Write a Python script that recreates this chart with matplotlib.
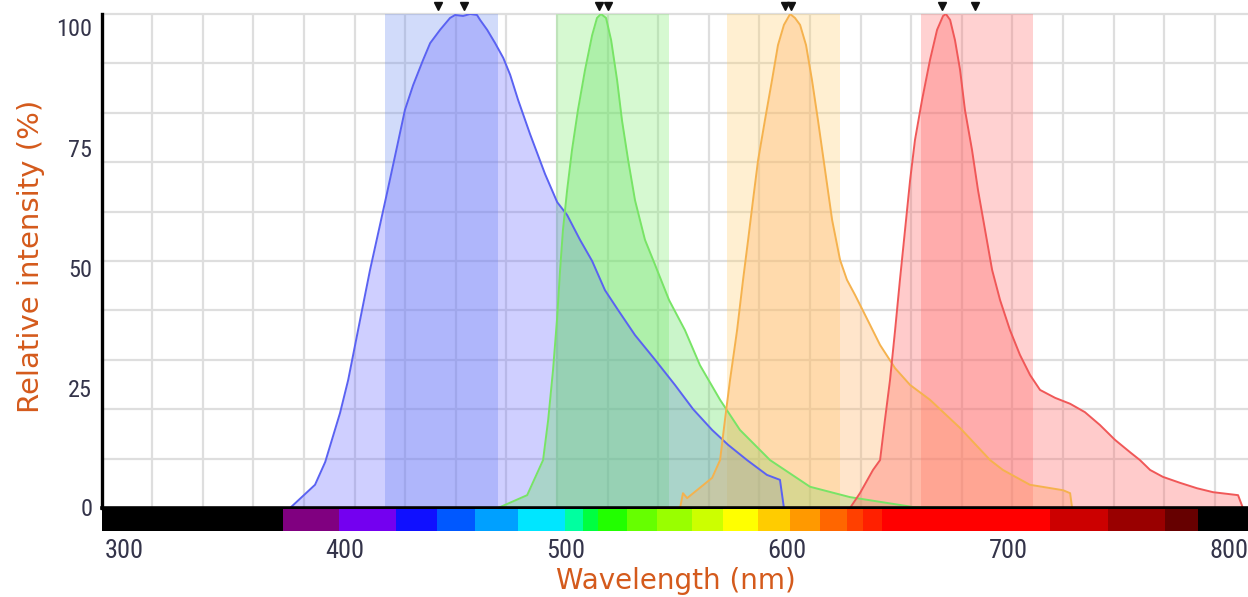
import numpy as np
import matplotlib
matplotlib.use("Agg")
import matplotlib.pyplot as plt
from matplotlib.transforms import blended_transform_factory
from matplotlib import font_manager

# ---- emission spectra (wavelength nm, relative intensity %) ----
blue_nm = [375.1, 386.4, 391.0, 397.7, 401.4, 406.8, 411.3, 415.8, 419.0, 423.5, 427.1,
           430.8, 435.3, 438.5, 443.0, 447.5, 449.8, 453.4, 456.6, 459.7, 461.1, 464.3,
           467.9, 471.6, 474.7, 478.3, 483.7, 490.5, 496.0, 500.5, 506.3, 511.8, 517.6,
           523.5, 531.2, 540.3, 549.3, 557.5, 566.1, 573.3, 581.9, 590.9, 596.8, 598.6]
blue_val = [0, 4.7, 9.3, 19.2, 25.9, 38.1, 48.2, 57.3, 63.8, 73.1, 80.6,
            85.6, 90.7, 94.1, 96.8, 99.2, 99.8, 99.6, 100, 99.8, 98.8, 96.8,
            94.1, 91.1, 87.7, 82.6, 75.7, 67.6, 61.9, 59.3, 54.3, 50.0, 44.1,
            40.1, 35.0, 30.0, 24.9, 20.0, 15.8, 12.8, 9.7, 6.7, 5.7, 0]

green_nm = [469.2, 482.4, 489.6, 491.9, 494.1, 495.9, 497.3, 498.6, 500.5, 502.7, 505.4,
            508.6, 511.8, 514.0, 515.8, 518.1, 520.4, 523.1, 525.3, 528.1, 531.2, 535.7,
            540.3, 546.6, 553.8, 560.6, 569.7, 578.7, 592.3, 610.4, 628.5, 657.0, 676.9]
green_val = [0, 2.6, 9.7, 17.8, 27.9, 38.1, 48.2, 56.3, 64.4, 72.5, 80.6,
             88.7, 95.7, 99.2, 100, 99.2, 94.7, 86.6, 78.5, 70.4, 62.3, 54.3,
             49.2, 42.1, 36.0, 28.9, 21.9, 15.8, 9.7, 4.3, 2.2, 0.2, 0]

orange_nm = [551.6, 552.9, 554.8, 566.1, 569.7, 571.9, 574.2, 577.4, 580.1, 582.4, 584.6,
             586.9, 590.0, 593.2, 595.9, 598.6, 601.4, 603.6, 605.9, 608.6, 611.3, 614.0,
             617.2, 620.4, 624.0, 627.1, 630.8, 635.3, 642.1, 648.9, 655.7, 664.7, 678.3,
             691.9, 697.7, 709.9, 724.9, 728.1, 729.0]
orange_val = [0, 3.0, 2.0, 6.1, 9.7, 17.8, 25.9, 36.0, 46.2, 54.3, 62.3,
              70.4, 78.5, 86.6, 93.7, 97.8, 100, 99.2, 97.8, 93.7, 86.6, 78.5,
              68.4, 58.3, 50.2, 46.2, 43.1, 39.1, 33.0, 28.3, 24.9, 21.9, 16.2,
              9.7, 7.7, 4.7, 3.6, 3.0, 0]

red_nm = [628.5, 633.0, 638.9, 642.1, 644.3, 646.6, 648.9, 651.1, 653.4, 655.7, 657.9,
          661.1, 664.7, 667.9, 670.6, 671.9, 673.8, 676.0, 678.3, 680.5, 683.7, 686.4,
          689.6, 692.8, 696.4, 700.9, 705.4, 710.0, 714.5, 721.3, 728.1, 734.8, 741.6,
          748.4, 755.2, 759.7, 764.3, 770.1, 777.8, 785.5, 792.8, 804.1, 806.3]
red_val = [0, 3.0, 7.7, 9.7, 17.8, 25.9, 36.0, 46.2, 56.3, 66.4, 74.5,
           82.6, 90.7, 96.8, 99.6, 100, 98.8, 94.7, 88.7, 80.6, 72.5, 64.4,
           56.3, 48.2, 42.1, 36.0, 31.0, 26.9, 23.9, 22.3, 21.1, 19.4, 16.8,
           13.8, 11.3, 9.7, 7.7, 6.3, 5.1, 4.0, 3.2, 2.6, 0]

# ---- detection filters (lower, upper nm) and top markers (nm) ----
filter_bands = [(418, 469), (495.5, 546.5), (573, 624), (660.5, 711.5)]
marker_nm = [[442, 454], [515, 519], [599, 602], [670, 685]]

# ---- visible spectrum strip ----
strip_edges = [290, 371.9, 397.3, 423.1, 441.6, 458.8, 478.3, 499.5, 507.7, 514.5, 527.6,
               541.2, 557.0, 571.0, 586.9, 601.4, 614.9, 627.1, 634.4, 643.0, 719.0,
               745.2, 771.0, 786.0, 808.6]
strip_colors = ["#000000", "#800080", "#7400f0", "#1010ff", "#0058ff", "#00a0ff",
                "#00e6ff", "#00ffa0", "#00ff40", "#22ff00", "#66ff00", "#99ff00",
                "#ccff00", "#ffff00", "#ffcc00", "#ff9900", "#ff6600", "#ff4000",
                "#ff2000", "#ff0000", "#cc0000", "#990000", "#660000", "#000000"]

x_ticks = [300, 400, 500, 600, 700, 800]
y_tick_labels = ["0", "25", "50", "75", "100"]

series = [
    (blue_nm, blue_val, "#5a62f2", "#6a6aff", "#7090f0"),
    (green_nm, green_val, "#78e466", "#5ce05a", "#80ee70"),
    (orange_nm, orange_val, "#f5b24e", "#ffb060", "#ffd070"),
    (red_nm, red_val, "#f05858", "#ff6060", "#ff7070"),
]

# narrow face for the tick numbers when one is available
installed = {f.name for f in font_manager.fontManager.ttflist}
narrow = [n for n in ("Roboto Condensed", "Liberation Sans Narrow", "DejaVu Sans Condensed")
          if n in installed]
if narrow:
    tick_font, y_size, x_size = narrow[0], 17.5, 19
else:
    tick_font, y_size, x_size = "Liberation Sans", 15, 16.5

W, H = 1248, 597
fig = plt.figure(figsize=(W / 100, H / 100), dpi=100)
ax = fig.add_axes([102 / W, (H - 508) / H, (W - 102) / W, 494 / H])
cax = fig.add_axes([102 / W, (H - 531) / H, (W - 102) / W, 22 / H])

xmin, xmax = 290.0, 808.6
ax.set_xlim(xmin, xmax)
ax.set_ylim(0, 100)

grid_c = "#dedede"
for gx in np.arange(312.7, xmax, 22.9):
    ax.axvline(gx, color=grid_c, lw=1.6, zorder=0)
for gy in range(10, 101, 10):
    ax.axhline(gy, color=grid_c, lw=1.6, zorder=0, clip_on=False)

for (lo, hi), (_, _, _, _, bc) in zip(filter_bands, series):
    ax.axvspan(lo, hi, color=bc, alpha=0.32, lw=0, zorder=1)

for xs, ys, lc, fc, _ in series:
    ax.fill_between(xs, ys, 0, color=fc, alpha=0.32, lw=0, zorder=2)
    ax.plot(xs, ys, color=lc, lw=1.4, zorder=3)

trans = blended_transform_factory(ax.transData, ax.transAxes)
for pair in marker_nm:
    for m in pair:
        ax.plot([m], [1.016], marker="v", color="#111111", markersize=6,
                transform=trans, clip_on=False, zorder=5)

tick_color = "#34344a"

ax.set_xticks([])
ax.set_yticks([0.2, 24.3, 48.6, 72.9, 97.4])
ax.set_yticklabels(y_tick_labels, family=tick_font, fontsize=y_size, color=tick_color)
ax.tick_params(axis="y", length=0, pad=7)

for s in ("top", "right"):
    ax.spines[s].set_visible(False)
ax.spines["left"].set_color("black")
ax.spines["left"].set_linewidth(2.4)
ax.spines["bottom"].set_color("black")
ax.spines["bottom"].set_linewidth(2.6)
ax.spines["bottom"].set_zorder(6)

# spectrum strip below the axis
widths = np.diff(strip_edges)
cax.bar(strip_edges[:-1], [1] * len(widths), width=widths, align="edge",
        color=strip_colors, lw=0)
cax.set_xlim(xmin, xmax)
cax.set_ylim(0, 1)
cax.set_yticks([])
cax.set_xticks(x_ticks)
cax.set_xticklabels([str(v) for v in x_ticks], family=tick_font, fontsize=x_size,
                    color=tick_color)
cax.tick_params(axis="x", length=0, pad=6)
for s in cax.spines.values():
    s.set_visible(False)

label_color = "#d45a1c"
fig.text(676 / W, 1 - 581 / H, "Wavelength (nm)", ha="center", va="center",
         fontsize=20, color=label_color, family="DejaVu Sans")
fig.text(31 / W, 1 - 256 / H, "Relative intensity (%)", ha="center", va="center",
         rotation=90, fontsize=21, color=label_color, family="DejaVu Sans")

fig.savefig("out.png", dpi=100)
